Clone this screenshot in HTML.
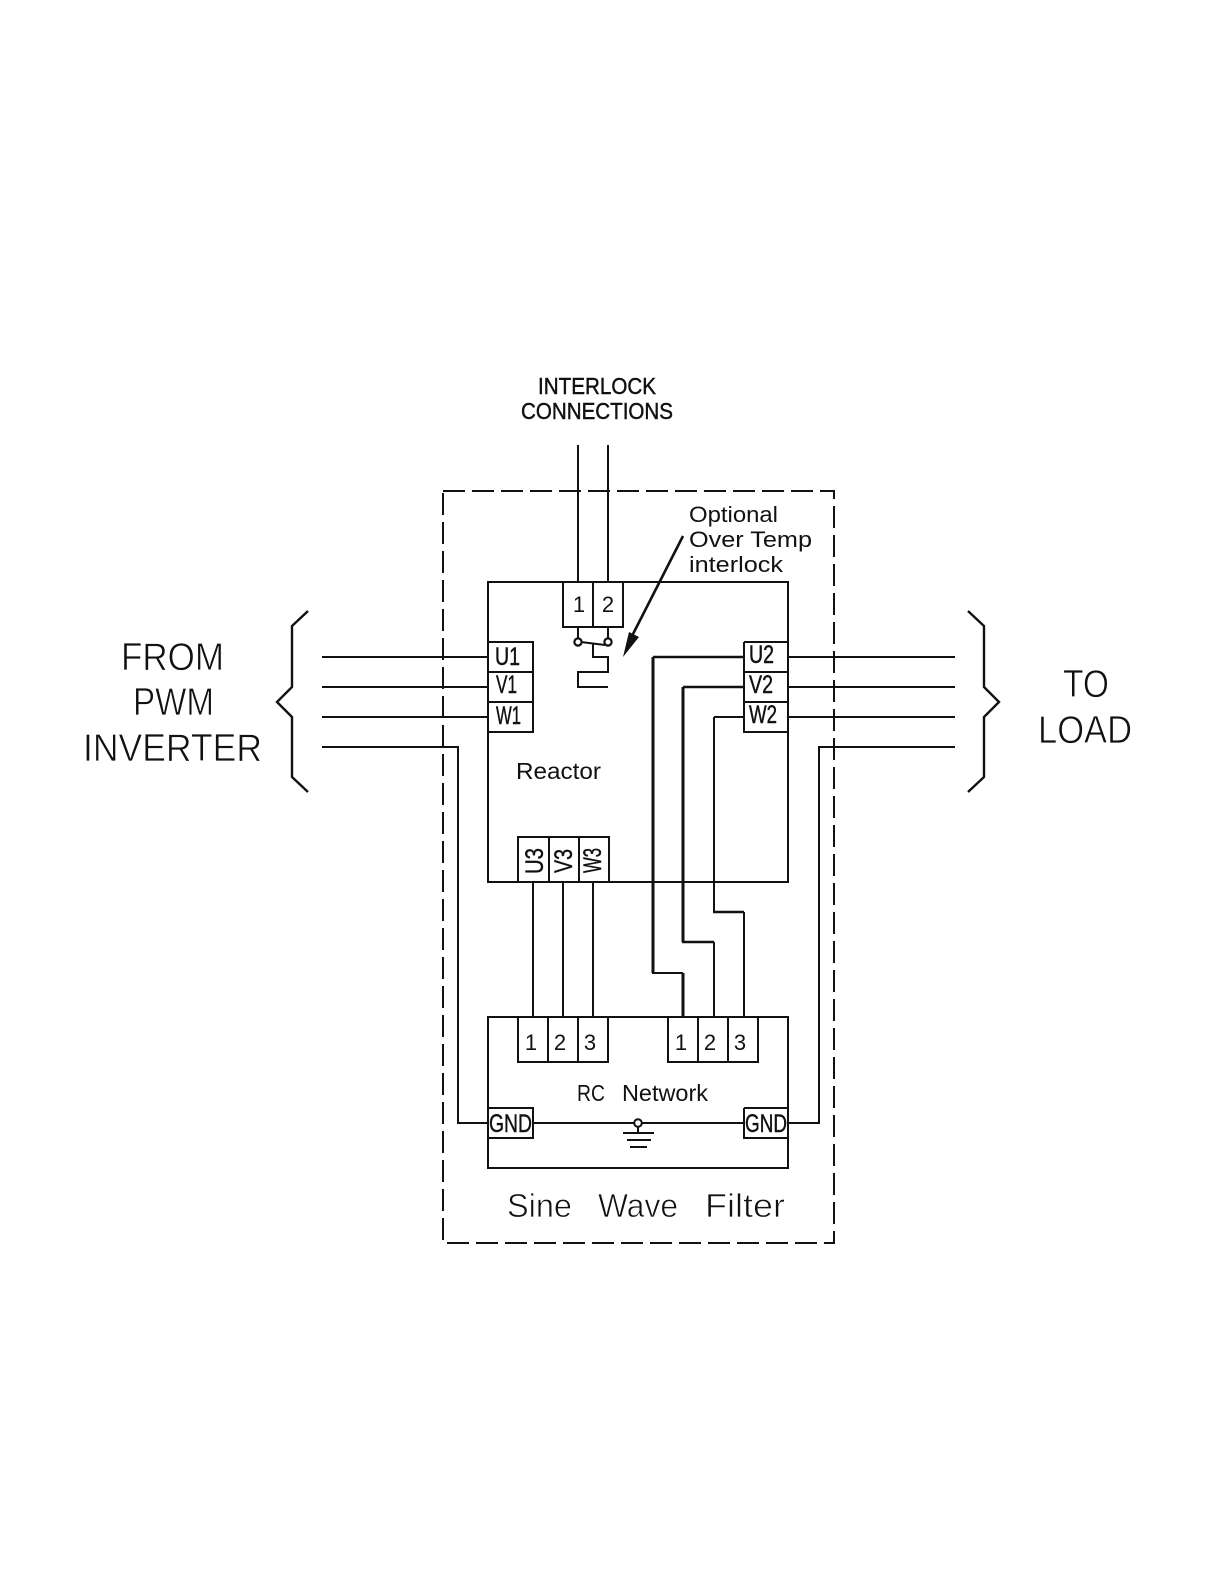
<!DOCTYPE html>
<html><head><meta charset="utf-8"><style>
html,body{margin:0;padding:0;background:#fff}
svg{display:block}
text{font-family:"Liberation Sans",sans-serif;fill:#111}
.t{stroke:#111;stroke-width:.45}
.l{stroke:#fff;stroke-width:.7}
</style></head><body>
<svg width="1224" height="1584" viewBox="0 0 1224 1584" xmlns="http://www.w3.org/2000/svg">
<rect width="1224" height="1584" fill="#fff"/>
<g fill="none" stroke="#111" stroke-width="2">
<path d="M443 491H834V1243H443Z" stroke-dasharray="22 7"/>
<path d="M488 582H788V882H488Z"/>
<path d="M488 1017H788V1168H488Z"/>
<path d="M578 445V582M608 445V582"/>
<path d="M563 582V627H623V582M593 582V627"/>
<path d="M578 627V638M608 627V638"/>
<circle cx="578" cy="642" r="3.6" fill="#fff" stroke-width="2.2"/>
<circle cx="608" cy="642" r="3.6" fill="#fff" stroke-width="2.2"/>
<path d="M581 642L605 645M593 643V657H608V672H578V687H608"/>
<path d="M683 536L632 636" stroke-width="2.6"/>
<path d="M488 642H533V732H488M488 672H533M488 702H533"/>
<path d="M744 642H788M744 642V732H788M744 672H788M744 702H788"/>
<path d="M322 657H488M322 687H488M322 717H488"/>
<path d="M788 657H955M788 687H955M788 717H955"/>
<path d="M322 747H458V1123H488"/>
<path d="M955 747H819V1123H788"/>
<path d="M308 611L292 626V687L277 702L292 717V777L308 792" stroke-width="2.4"/>
<path d="M968 611L984 626V687L999 702L984 717V777L968 792" stroke-width="2.4"/>
<path d="M518 882V837H609V882M549 837V882M579 837V882"/>
<path d="M533 882V1017M563 882V1017M593 882V1017"/>
<path d="M653 657H744M683 687H744" stroke-width="2.4"/>
<path d="M653 657V973" stroke-width="3"/>
<path d="M652 973H683"/>
<path d="M683 973V1017" stroke-width="3"/>
<path d="M683 687V942" stroke-width="3"/>
<path d="M682 942H714" stroke-width="2.6"/>
<path d="M714 942V1017"/>
<path d="M714 717H744M714 717V912"/>
<path d="M713 912H744" stroke-width="2.6"/>
<path d="M744 912V1017"/>
<path d="M518 1017V1062H608V1017M548 1017V1062M578 1017V1062"/>
<path d="M668 1017V1062H758V1017M698 1017V1062M728 1017V1062"/>
<path d="M488 1108H533V1138H488M744 1108H788M744 1108V1138H788"/>
<path d="M533 1123H634M642 1123H744"/>
<circle cx="638" cy="1123" r="3.8" fill="#fff"/>
<path d="M638 1127V1133M623 1133H654M627 1140H651M630 1147H647"/>
</g>
<path d="M623 657L629 632L639 637Z" fill="#111"/>

<g font-size="23" class="t">
<text x="538" y="394" textLength="118" lengthAdjust="spacingAndGlyphs">INTERLOCK</text>
<text x="521" y="419" textLength="152" lengthAdjust="spacingAndGlyphs">CONNECTIONS</text>
</g>
<g font-size="22">
<text x="689" y="522" textLength="89" lengthAdjust="spacingAndGlyphs">Optional</text>
<text x="689" y="547" textLength="123" lengthAdjust="spacingAndGlyphs">Over  Temp</text>
<text x="689" y="572" textLength="94" lengthAdjust="spacingAndGlyphs">interlock</text>
<text x="579" y="612" text-anchor="middle">1</text>
<text x="608" y="612" text-anchor="middle">2</text>
<text x="516" y="779" textLength="85" lengthAdjust="spacingAndGlyphs" font-size="23">Reactor</text>
<text x="531" y="1050" text-anchor="middle">1</text>
<text x="560" y="1050" text-anchor="middle">2</text>
<text x="590" y="1050" text-anchor="middle">3</text>
<text x="681" y="1050" text-anchor="middle">1</text>
<text x="710" y="1050" text-anchor="middle">2</text>
<text x="740" y="1050" text-anchor="middle">3</text>
<text x="577" y="1101" textLength="28" lengthAdjust="spacingAndGlyphs" font-size="23">RC</text>
<text x="622" y="1101" textLength="86" lengthAdjust="spacingAndGlyphs" font-size="23">Network</text>
</g>
<g font-size="25" class="t">
<text x="495" y="665" textLength="25" lengthAdjust="spacingAndGlyphs">U1</text>
<text x="496" y="693" textLength="21" lengthAdjust="spacingAndGlyphs">V1</text>
<text x="496" y="724" textLength="25" lengthAdjust="spacingAndGlyphs">W1</text>
<text x="749" y="663" textLength="25" lengthAdjust="spacingAndGlyphs">U2</text>
<text x="749" y="693" textLength="24" lengthAdjust="spacingAndGlyphs">V2</text>
<text x="749" y="723" textLength="28" lengthAdjust="spacingAndGlyphs">W2</text>
<text transform="translate(543 874) rotate(-90)" textLength="26" lengthAdjust="spacingAndGlyphs">U3</text>
<text transform="translate(572 873) rotate(-90)" textLength="24" lengthAdjust="spacingAndGlyphs">V3</text>
<text transform="translate(601 873) rotate(-90)" textLength="25" lengthAdjust="spacingAndGlyphs">W3</text>
<text x="489" y="1132" textLength="43" lengthAdjust="spacingAndGlyphs">GND</text>
<text x="745" y="1132" textLength="42" lengthAdjust="spacingAndGlyphs">GND</text>
</g>
<g font-size="33" class="l">
<text x="507" y="1217" textLength="65" lengthAdjust="spacingAndGlyphs">Sine</text>
<text x="598" y="1217" textLength="80" lengthAdjust="spacingAndGlyphs">Wave</text>
<text x="705" y="1217" textLength="80" lengthAdjust="spacingAndGlyphs">Filter</text>
</g>
<g font-size="39" class="l">
<text x="121" y="670" textLength="103" lengthAdjust="spacingAndGlyphs">FROM</text>
<text x="133" y="715" textLength="81" lengthAdjust="spacingAndGlyphs">PWM</text>
<text x="83" y="761" textLength="179" lengthAdjust="spacingAndGlyphs">INVERTER</text>
<text x="1063" y="697" textLength="46" lengthAdjust="spacingAndGlyphs">TO</text>
<text x="1038" y="743" textLength="94" lengthAdjust="spacingAndGlyphs">LOAD</text>
</g>
</svg>
</body></html>
